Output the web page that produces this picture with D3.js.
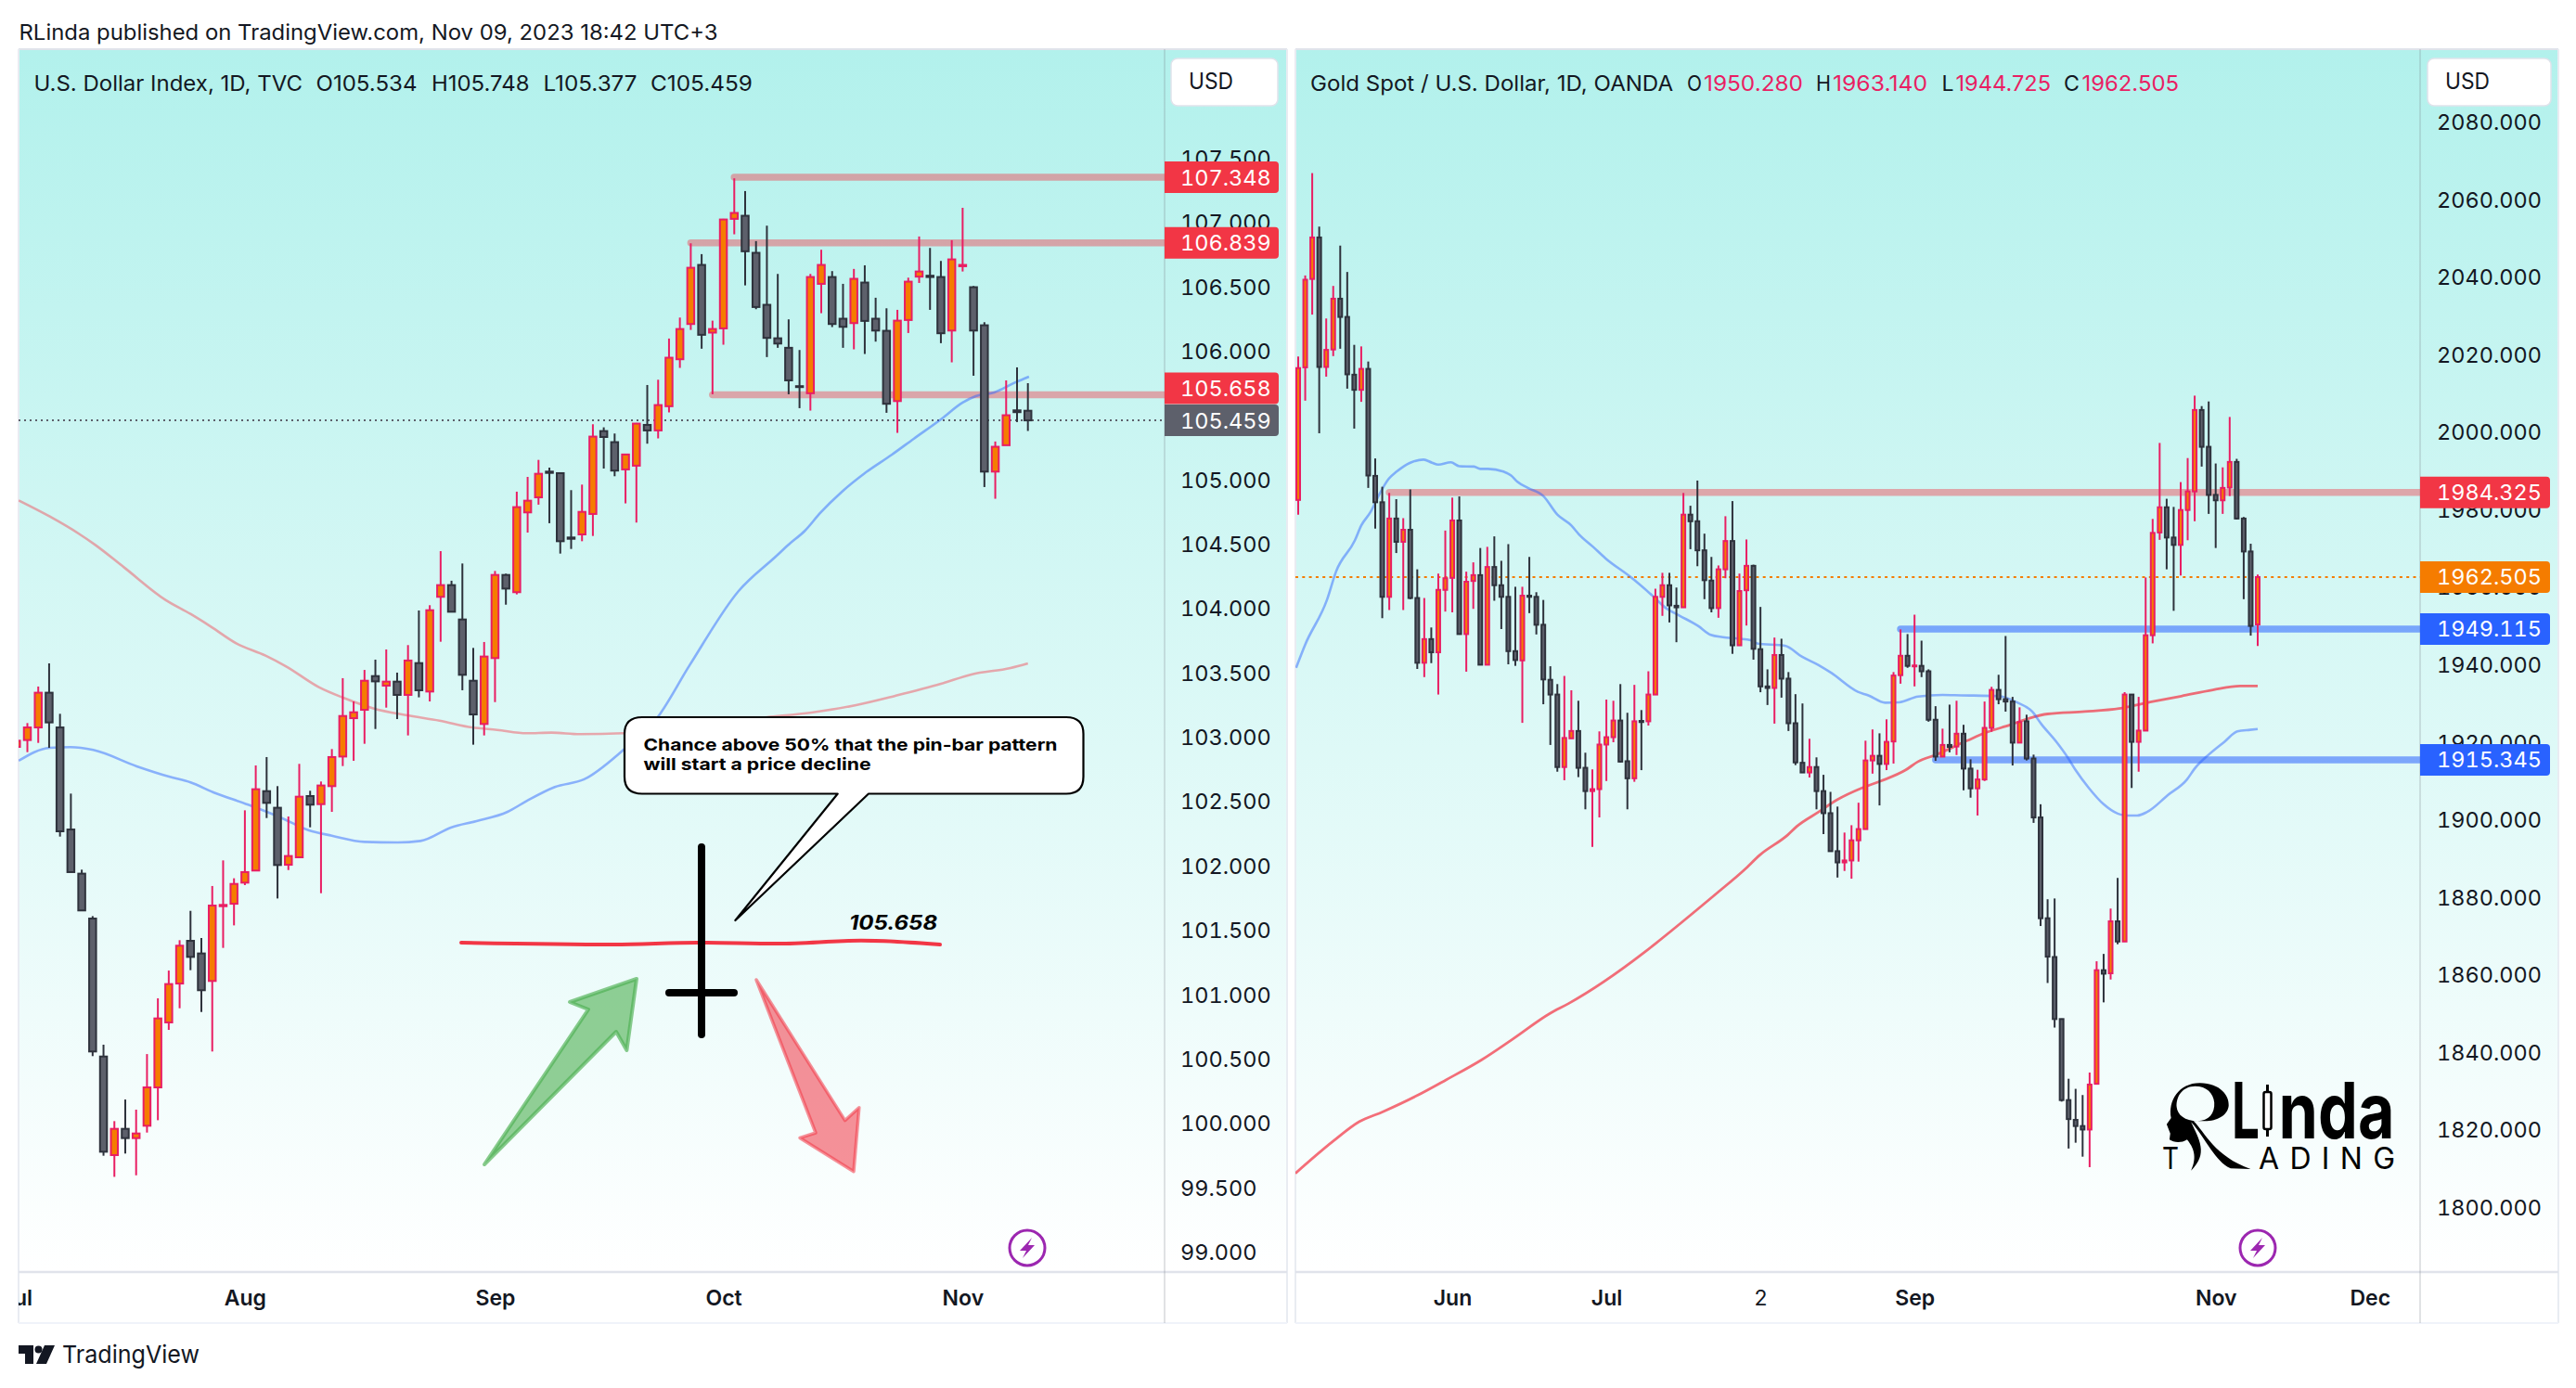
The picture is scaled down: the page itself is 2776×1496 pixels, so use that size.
<!DOCTYPE html>
<html><head><meta charset="utf-8">
<script src="https://cdn.jsdelivr.net/npm/d3@7"></script>
<style>
html,body{margin:0;padding:0;background:#fff;overflow:hidden}
svg{display:block}
text{font-family:Inter,"Noto Sans",sans-serif}
.tnum text,text.tnum{font-variant-numeric:tabular-nums;font-feature-settings:"tnum" 1}
</style></head><body>
<script>
// ---------- DXY data ----------
const dxyOpen=[102.922,102.975,103.073,103.343,103.073,102.280,101.937,101.588,100.516,99.750,99.954,99.882,99.978,100.276,100.781,101.083,101.415,101.317,101.103,101.684,101.703,101.867,101.961,102.578,102.449,102.006,102.064,102.540,102.477,102.617,102.847,103.145,103.210,103.472,103.398,103.429,103.326,103.573,103.352,104.088,104.179,103.912,103.436,103.100,103.612,104.258,104.124,104.744,104.861,105.061,105.049,104.549,104.573,104.732,105.376,105.290,105.078,105.107,105.424,105.381,105.569,105.934,106.208,106.667,106.141,106.174,107.025,107.049,106.761,106.357,106.097,106.023,105.725,105.670,106.520,106.573,106.249,106.215,106.530,106.249,106.155,105.609,106.239,106.576,106.583,106.573,106.157,106.657,106.494,106.198,105.061,105.266,105.537,105.534];
const dxyHigh=[102.970,103.107,103.391,103.571,103.179,102.559,101.968,101.607,100.608,100.014,100.182,100.103,100.535,100.968,101.184,101.420,101.648,101.437,101.841,102.040,101.901,102.429,102.778,102.843,102.617,102.381,102.790,102.581,102.653,102.905,103.456,103.275,103.520,103.600,103.679,103.499,103.713,103.982,104.023,104.443,104.213,104.347,103.691,103.737,104.289,104.268,104.905,105.020,105.152,105.092,105.054,104.917,104.960,105.429,105.405,105.357,105.198,105.439,105.734,105.775,106.095,106.258,106.835,106.751,106.234,107.025,107.340,107.241,106.852,106.972,106.597,106.244,106.006,106.597,106.785,106.619,106.520,106.636,106.664,106.412,106.330,106.318,106.568,106.888,106.799,106.698,106.859,107.111,106.503,106.222,105.295,105.770,105.871,105.748];
const dxyLow=[102.922,102.881,102.953,102.915,102.225,101.949,101.651,100.519,99.745,99.581,99.762,99.593,99.925,100.021,100.723,100.891,101.187,100.862,100.555,101.360,101.535,101.848,101.961,102.369,101.744,101.965,102.062,102.297,101.785,102.417,102.773,102.814,102.946,103.061,103.227,103.138,103.011,103.307,103.275,103.739,103.972,103.362,102.939,103.011,103.270,104.027,104.107,104.587,104.804,104.660,104.424,104.460,104.520,104.561,105.085,105.025,104.814,104.665,105.278,105.319,105.521,105.867,106.162,106.016,105.662,106.047,106.905,106.508,106.323,105.951,106.023,105.662,105.554,105.535,106.292,106.184,106.023,106.011,105.975,106.071,105.518,105.362,106.138,106.527,106.318,106.059,105.910,106.616,105.806,104.941,104.850,105.266,105.446,105.377];
const dxyClose=[102.970,103.073,103.343,103.112,102.266,101.949,101.651,100.555,99.776,99.954,99.882,99.918,100.276,100.812,101.079,101.377,101.290,101.031,101.689,101.694,101.857,101.949,102.593,102.487,102.004,102.074,102.535,102.473,102.622,102.843,103.162,103.191,103.436,103.431,103.429,103.326,103.593,103.362,103.984,104.179,103.972,103.482,103.174,103.624,104.258,104.152,104.785,104.835,105.044,105.051,104.520,104.539,104.748,105.333,105.330,105.069,105.194,105.434,105.381,105.578,105.946,106.169,106.645,106.124,106.169,107.020,107.071,106.773,106.340,106.100,106.056,105.770,105.718,106.573,106.667,106.208,106.186,106.559,106.232,106.157,105.588,106.234,106.537,106.616,106.573,106.136,106.710,106.667,106.157,105.061,105.254,105.499,105.523,105.459];
const dxyFastBar=[0.2,3.06,4.96,7.06,11.06,14.1,16,18.1,21.3,24.4,26.9,29,32,35.06,37.15,40,42.3,45.15,46.9,49.5,52.2,55.8,58.9,61.9,66.4,69.8,71,72.5,73.9,75.9,78,80.5,82.5,85,87,88.2,89.9,91.9,93.1];
const dxyFastVal=[102.814,102.915,102.920,102.898,102.771,102.689,102.646,102.569,102.473,102.369,102.273,102.232,102.184,102.179,102.191,102.297,102.345,102.417,102.501,102.610,102.670,102.898,103.146,103.557,104.133,104.400,104.494,104.602,104.739,104.905,105.049,105.193,105.316,105.467,105.597,105.647,105.676,105.756,105.799];
const dxySlowBar=[0.2,3.06,5.7,7.25,9.9,13.7,16,17.9,20.2,22.9,24.8,27.8,30.1,32.8,35.8,38.9,41.9,44.2,46.9,49.2,51.8,55.8,69,73.1,77.2,80.8,85,87.8,91.4,93];
const dxySlowVal=[104.837,104.712,104.580,104.491,104.316,104.064,103.955,103.855,103.727,103.631,103.547,103.386,103.302,103.222,103.169,103.126,103.073,103.054,103.028,103.033,103.021,103.028,103.153,103.189,103.247,103.319,103.412,103.485,103.535,103.571];
const dxyTicks=[99,99.5,100,100.5,101,101.5,102,102.5,103,103.5,104,104.5,105,105.5,106,106.5,107,107.5];
const dxyMonthBars=[0,21,44,65,87];
const dxyMonths=["Jul","Aug","Sep","Oct","Nov"];
const dxyLevels=[107.348,106.839,105.658];
const dxyLevelStart=[66,62,64];
const dxyLast=105.459;

// ---------- Gold data ----------
const xauOpen=[1982.4,2016.6,2039.4,2050.1,2016.7,2021.2,2034.3,2029.6,2014.7,2010.8,2016.2,1988.6,1981.8,1957.4,1977.6,1971.6,1974.7,1957.1,1940.4,1946.5,1943.1,1959.2,1962.3,1977.1,1947.8,1961.5,1963.0,1939.9,1965.1,1960.4,1957.4,1943.4,1941.0,1957.7,1957.4,1950.2,1936.0,1932.2,1913.5,1920.9,1922.8,1913.3,1907.3,1907.8,1919.3,1921.2,1925.5,1915.0,1910.6,1925.4,1925.3,1932.2,1957.4,1960.4,1955.1,1954.7,1978.6,1976.9,1969.4,1961.6,1954.5,1964.5,1971.8,1944.9,1959.1,1965.4,1943.9,1934.3,1933.9,1942.4,1936.3,1924.8,1914.6,1912.1,1913.5,1907.3,1901.6,1891.8,1888.9,1889.4,1894.6,1897.5,1915.2,1916.4,1914.3,1920.1,1937.2,1942.2,1939.5,1939.6,1938.2,1925.7,1916.2,1919.2,1918.8,1922.1,1913.1,1908.0,1910.3,1923.6,1933.4,1931.0,1930.4,1919.8,1925.3,1915.7,1900.5,1874.5,1864.5,1848.5,1827.6,1822.5,1820.9,1820.0,1831.8,1861.1,1860.3,1873.7,1868.5,1932.2,1920.0,1922.9,1947.5,1974.0,1980.5,1972.7,1970.8,1979.8,1984.6,2005.6,1996.1,1983.7,1982.3,1985.6,1992.2,1977.6,1969.1,1950.28];
const xauHigh=[2019.4,2040.3,2066.7,2052.9,2029.2,2037.6,2048.0,2041.2,2022.4,2022.0,2018.1,1993.1,1985.8,1984.2,1982.6,1977.7,1985.1,1964.5,1957.1,1949.5,1963.4,1974.5,1983.0,1983.3,1963.9,1966.3,1970.0,1970.3,1973.0,1966.7,1971.0,1960.0,1960.0,1967.7,1958.6,1956.6,1939.5,1934.9,1937.0,1933.3,1930.6,1917.2,1912.9,1922.7,1930.9,1930.6,1934.9,1927.5,1934.7,1928.2,1938.2,1959.5,1963.6,1963.6,1959.8,1984.2,1980.9,1987.4,1973.7,1967.7,1965.5,1978.2,1982.1,1963.4,1972.2,1965.7,1954.8,1938.7,1946.9,1946.6,1938.0,1932.3,1929.9,1920.8,1916.0,1911.5,1907.1,1903.3,1896.6,1898.5,1904.3,1920.3,1923.2,1922.2,1925.8,1938.0,1949.0,1947.8,1952.8,1946.1,1938.7,1929.2,1923.4,1929.6,1930.6,1924.4,1915.5,1912.8,1930.4,1934.2,1937.3,1947.3,1931.6,1928.9,1927.0,1916.7,1903.9,1879.4,1879.6,1848.6,1833.1,1830.5,1828.9,1834.7,1863.4,1865.3,1877.0,1884.9,1932.8,1932.2,1931.6,1962.4,1977.5,1997.1,1982.7,1980.6,1987.0,1993.2,2009.3,2006.6,2007.8,1991.8,1990.8,2003.8,1993.0,1978.0,1971.1,1963.14];
const xauLow=[1978.6,2008.0,2030.2,1999.6,2014.2,2019.5,2021.4,2011.1,2000.8,2007.7,1985.5,1975.0,1951.9,1954.0,1968.7,1954.0,1956.8,1938.8,1936.7,1940.3,1932.2,1953.6,1953.4,1947.8,1938.1,1954.3,1939.9,1939.9,1956.4,1949.1,1940.0,1939.6,1924.9,1953.2,1947.7,1929.7,1919.2,1912.3,1910.1,1920.9,1910.9,1902.6,1892.9,1900.5,1909.9,1919.9,1914.7,1902.6,1909.7,1912.7,1924.2,1932.2,1952.5,1950.8,1945.7,1954.7,1969.7,1965.3,1956.8,1953.4,1952.0,1962.2,1942.7,1944.9,1950.0,1941.2,1932.8,1929.5,1924.7,1931.4,1922.8,1914.0,1912.0,1910.8,1902.6,1896.2,1891.8,1885.0,1886.7,1884.7,1889.1,1897.5,1911.8,1903.6,1912.7,1914.4,1935.0,1939.1,1934.3,1936.7,1925.2,1915.1,1916.2,1917.3,1916.6,1907.5,1905.6,1901.0,1909.9,1922.6,1929.7,1927.8,1913.9,1919.7,1915.2,1899.1,1872.5,1857.8,1846.3,1827.2,1815.1,1816.6,1813.0,1810.3,1831.8,1852.8,1858.7,1867.8,1868.5,1908.1,1912.3,1922.9,1945.4,1972.1,1964.5,1953.8,1962.9,1972.0,1976.9,1991.0,1978.8,1970.0,1978.8,1983.4,1977.4,1956.8,1947.4,1944.725];
const xauClose=[2016.4,2039.2,2050.1,2016.7,2021.1,2034.3,2029.6,2014.8,2010.8,2016.2,1988.7,1981.8,1957.4,1977.6,1971.6,1974.7,1957.1,1940.4,1946.5,1943.1,1959.2,1962.2,1977.1,1947.8,1961.3,1963.0,1939.9,1965.1,1960.4,1957.4,1943.4,1941.1,1957.7,1957.4,1950.2,1936.1,1932.2,1913.5,1921.0,1922.8,1913.3,1907.3,1907.8,1919.3,1921.2,1925.5,1914.9,1910.6,1925.3,1925.1,1932.2,1957.4,1960.4,1955.2,1954.7,1978.6,1976.9,1969.4,1961.7,1954.5,1964.5,1971.8,1944.9,1958.9,1965.4,1944.0,1934.3,1933.9,1942.4,1936.3,1924.8,1914.7,1912.1,1913.5,1907.3,1901.6,1891.8,1888.9,1889.4,1894.6,1897.5,1915.2,1916.4,1914.3,1920.0,1937.1,1942.2,1939.6,1939.7,1938.2,1925.7,1916.2,1919.2,1918.7,1922.1,1913.1,1908.0,1910.3,1923.6,1933.4,1931.0,1930.4,1919.8,1925.1,1915.7,1900.5,1874.5,1864.6,1848.5,1827.6,1822.7,1820.9,1820.0,1831.6,1861.1,1860.2,1873.7,1868.5,1932.2,1920.0,1922.9,1947.5,1973.9,1980.5,1972.7,1970.8,1979.8,1984.6,2005.6,1996.1,1983.7,1982.3,1985.5,1992.2,1977.6,1969.1,1949.9,1962.505];
const xauFastBar=[-0.3,1,4.1,5.4,8.1,9,10.3,11.6,12.9,14.05,16,17.9,19.1,20,21.8,23,25.1,26,27.1,29.3,30.4,31.3,32.8,35,37,39,40.1,42.1,43.9,47.4,50.7,52.5,54.5,57.1,58.9,60.6,62.9,64.6,65.5,69.5,71.9,74.3,76.1,79.9,81.4,83.8,85.8,88.5,92,94.6,100,102.6,104.8,106.1,108.3,109.9,111,112.8,115,117,118.5,119.8,121.2,124.2,126.9,128,130,132.3,134.1,135.9,137];
const xauFastVal=[1939.1,1945.1,1956.6,1963.9,1972.0,1975.8,1979.2,1983.9,1987.8,1989.7,1992.0,1992.8,1992.0,1991.5,1992.1,1991.1,1991.0,1990.4,1990.4,1989.7,1988.7,1987.1,1985.5,1983.4,1978.6,1975.8,1973.5,1970.3,1967.3,1962.6,1957.5,1954.5,1952.5,1949.9,1947.6,1947.0,1946.6,1946.2,1945.4,1944.8,1942.0,1939.8,1937.8,1932.9,1932.0,1930.1,1930.2,1931.7,1932.1,1932.0,1931.8,1930.2,1927.8,1924.6,1919.9,1915.9,1912.7,1908.3,1903.9,1901.5,1901.0,1901.0,1901.9,1906.3,1910.3,1913.1,1916.7,1920.1,1922.7,1923.1,1923.3];
const xauSlowBar=[-0.4,5,8.7,12.1,16.9,21.1,26.2,30.6,35.9,38.6,60.2,63.7,65.9,69.9,71.2,74.3,77,80.5,83.2,86.7,88.5,91.1,95.5,98.2,101.7,104.4,107,112.3,117.2,122,126.1,130.6,134.5,137];
const xauSlowVal=[1808.7,1817.0,1822.0,1824.6,1828.7,1832.8,1838.0,1843.3,1849.9,1852.5,1881.6,1887.0,1890.8,1896.0,1898.2,1901.9,1905.1,1908.1,1909.9,1912.7,1914.9,1916.7,1920.3,1922.4,1924.4,1926.1,1927.2,1927.8,1928.6,1930.4,1931.8,1933.4,1934.4,1934.4];
const xauTicks=[1800,1820,1840,1860,1880,1900,1920,1940,1960,1980,2000,2020,2040,2060,2080];
const xauMonthBars=[22,44,66,88,131,153];
const xauMonths=["Jun","Jul","2","Sep","Nov","Dec"];
const xauLevels=[1984.325,1949.115,1915.345];
const xauLevelStart=[13,86,91];
const xauLast=1962.505;

// ---------- drawing ----------
const W=2776,H=1496,TOP=53,PLOT=1371,BOT=1426;
const INK="#131722",UPF="#f57c00",UPB="#e91e63",DNF="#5d606b",DNB="#2e323c";
const RED="#f23645",BLUE="#2962ff",GREY="#5d606b",ORANGE="#f57c00";
const svg=d3.select("body").append("svg").attr("width",W).attr("height",H).attr("viewBox",`0 0 ${W} ${H}`);
const defs=svg.append("defs");
const grad=defs.append("linearGradient").attr("id","bg").attr("gradientUnits","userSpaceOnUse")
  .attr("x1",0).attr("x2",0).attr("y1",TOP).attr("y2",PLOT);
grad.append("stop").attr("offset",0).attr("stop-color","#b2f1ec");
grad.append("stop").attr("offset",1).attr("stop-color","#ffffff");
svg.append("rect").attr("width",W).attr("height",H).attr("fill","#fff");

function label(g,s,x,y,len,o={}){
  const t=g.append("text").attr("x",x).attr("y",y).text(s)
    .attr("font-size",o.size||23).attr("fill",o.fill||INK).attr("font-weight",o.weight||400);
  if(o.style) t.attr("font-style",o.style);
  if(len) t.attr("textLength",len).attr("lengthAdjust",o.adj||"spacingAndGlyphs");
  return t;
}

function panel(p){
  const g=svg.append("g");
  const {left,axisX,right}=p;
  g.append("rect").attr("x",left).attr("y",TOP).attr("width",right-left).attr("height",PLOT-TOP).attr("fill","url(#bg)");
  const id="clip"+p.id;
  defs.append("clipPath").attr("id",id).append("rect").attr("x",left).attr("y",TOP).attr("width",axisX-left).attr("height",PLOT-TOP);
  const defsT="clipT"+p.id;
  defs.append("clipPath").attr("id",defsT).append("rect").attr("x",left).attr("y",PLOT).attr("width",axisX-left).attr("height",BOT-PLOT);

  const x=d3.scaleLinear().domain(p.xDomain).range(p.xRange);
  const y=d3.scaleLinear().domain(p.yDomain).range(p.yRange);

  // frame
  g.append("line").attr("x1",left).attr("x2",right).attr("y1",TOP).attr("y2",TOP).attr("stroke","#e0e3eb").attr("stroke-width",2);
  g.append("line").attr("x1",left).attr("x2",left).attr("y1",TOP).attr("y2",BOT).attr("stroke","#e9ecf2").attr("stroke-width",2);
  g.append("line").attr("x1",right).attr("x2",right).attr("y1",TOP).attr("y2",BOT).attr("stroke","#e9ecf2").attr("stroke-width",2);
  g.append("line").attr("x1",left).attr("x2",right).attr("y1",PLOT).attr("y2",PLOT).attr("stroke","#e0e3eb").attr("stroke-width",2.5);
  g.append("line").attr("x1",left).attr("x2",right).attr("y1",BOT).attr("y2",BOT).attr("stroke","#f0f3fa").attr("stroke-width",2);
  g.append("line").attr("x1",axisX).attr("x2",axisX).attr("y1",TOP).attr("y2",BOT).attr("stroke","#787b86").attr("stroke-opacity",.22).attr("stroke-width",2);

  // price axis
  const ya=g.append("g").attr("class","tnum").attr("transform",`translate(${axisX},0)`)
    .call(d3.axisRight(y).tickValues(p.ticks).tickFormat(d3.format(".3f")).tickSize(0).tickPadding(p.tickPad));
  ya.select(".domain").remove();
  ya.selectAll("text").attr("font-size",p.tickSize).attr("fill",INK).attr("font-family","Inter").attr("dy",".36em");

  // time axis (clipped in page coordinates by an outer group)
  const xClip=g.append("g").attr("clip-path",`url(#${defsT})`);
  const xa=xClip.append("g").attr("transform",`translate(0,${PLOT})`)
    .call(d3.axisBottom(x).tickValues(p.monthBars).tickFormat((d,i)=>p.months[i]).tickSize(0).tickPadding(0));
  xa.select(".domain").remove();
  xa.selectAll("text").attr("font-size",23).attr("fill",INK).attr("font-family","Inter")
    .attr("font-weight",(d,i)=>/^\d/.test(p.months[i])?400:600)
    .attr("dy",0).attr("y",36);

  const plot=g.append("g").attr("clip-path",`url(#${id})`);

  // last price dotted line
  plot.append("line").attr("x1",left).attr("x2",axisX).attr("y1",y(p.last)).attr("y2",y(p.last))
    .attr("stroke",p.lastColor).attr("stroke-width",2).attr("stroke-dasharray",p.lastDash);

  // levels
  plot.selectAll("line.level").data(p.levels).join("line").attr("class","level")
    .attr("x1",(d,i)=>x(p.levelStart[i])).attr("x2",axisX+8)
    .attr("y1",d=>y(d)).attr("y2",d=>y(d))
    .attr("stroke",(d,i)=>p.levelColor[i]).attr("stroke-opacity",(d,i)=>p.levelOpacity[i])
    .attr("stroke-width",7.5).attr("stroke-linecap","round");

  // moving averages
  const line=d3.line().x(d=>x(d[0])).y(d=>y(d[1])).curve(d3.curveMonotoneX);
  plot.append("path").attr("d",line(d3.zip(p.slowBar,p.slowVal))).attr("fill","none")
    .attr("stroke",RED).attr("stroke-opacity",p.slowOpacity).attr("stroke-width",p.slowWidth);
  plot.append("path").attr("d",line(d3.zip(p.fastBar,p.fastVal))).attr("fill","none")
    .attr("stroke",BLUE).attr("stroke-opacity",.48).attr("stroke-width",2.6);

  // candles
  const bars=d3.range(p.open.length);
  const up=i=>p.close[i]>=p.open[i];
  const c=plot.selectAll("g.c").data(bars).join("g").attr("class","c");
  c.append("line").attr("x1",i=>x(i)).attr("x2",i=>x(i)).attr("y1",i=>y(p.high[i])).attr("y2",i=>y(p.low[i]))
    .attr("stroke",i=>up(i)?UPB:DNB).attr("stroke-width",p.wick);
  c.append("rect").attr("x",i=>x(i)-(p.body-2)/2).attr("width",p.body-2)
    .attr("y",i=>y(Math.max(p.open[i],p.close[i])))
    .attr("height",i=>Math.max(1,Math.abs(y(p.open[i])-y(p.close[i]))))
    .attr("fill",i=>up(i)?UPF:DNF).attr("stroke",i=>up(i)?UPB:DNB).attr("stroke-width",2);

  // price tags
  const tg=g.selectAll("g.tag").data(p.tags).join("g").attr("class","tag tnum")
    .attr("transform",d=>`translate(${axisX},${y(d.v)+(d.nudge||0)})`);
  tg.append("path").attr("d",d=>{
      const w=p.tagW,h=17,r=4;
      return `M0,${-h}H${w-r}Q${w},${-h} ${w},${-h+r}V${h-r}Q${w},${h} ${w-r},${h}H0Z`;
    }).attr("fill",d=>d.c);
  tg.append("text").attr("x",p.tickPad).attr("y",0).attr("dy",".36em").attr("fill","#fff")
    .attr("font-size",p.tickSize).text(d=>d3.format(".3f")(d.v));

  // USD button
  g.append("rect").attr("x",p.usdX).attr("y",63).attr("width",p.usdW).attr("height",51).attr("rx",7)
    .attr("fill","#fff").attr("stroke","#e0e3eb").attr("stroke-width",1.5);
  label(g,"USD",p.usdX+19,96,48,{size:24});

  // bolt badge
  const bolt=g.append("g").attr("transform",`translate(${p.boltX},1345)`);
  bolt.append("circle").attr("r",19).attr("fill","none").attr("stroke","#9c27b0").attr("stroke-width",3);
  bolt.append("path").attr("d","M5,-11 L-8,3 L-1,3 L-5,11 L8,-3 L1,-3 Z").attr("fill","#9c27b0");
  return g;
}

panel({id:"L",left:20,axisX:1255,right:1387,xDomain:[1,93],xRange:[29.5,1107.7],yDomain:[99,107.5],yRange:[1349,170],
  open:dxyOpen,high:dxyHigh,low:dxyLow,close:dxyClose,ticks:dxyTicks,monthBars:dxyMonthBars,months:dxyMonths,
  levels:dxyLevels,levelStart:dxyLevelStart,levelColor:[RED,RED,RED],levelOpacity:[.42,.42,.42],
  slowBar:dxySlowBar,slowVal:dxySlowVal,fastBar:dxyFastBar,fastVal:dxyFastVal,slowOpacity:.42,slowWidth:2.6,
  last:dxyLast,lastColor:GREY,lastDash:"2 4",tickPad:17,tickSize:23.5,body:9.5,wick:2,tagW:123,
  tags:[{v:dxyLevels[0],c:RED},{v:dxyLevels[1],c:RED},{v:dxyLevels[2],c:RED,nudge:-7},{v:dxyLast,c:GREY}],
  usdX:1262,usdW:115,boltX:1107});
panel({id:"R",left:1396,axisX:2608,right:2757,xDomain:[0,137],xRange:[1399,2433],yDomain:[1800,2080],yRange:[1301,131],
  open:xauOpen,high:xauHigh,low:xauLow,close:xauClose,ticks:xauTicks,monthBars:xauMonthBars,months:xauMonths,
  levels:xauLevels,levelStart:xauLevelStart,levelColor:[RED,BLUE,BLUE],levelOpacity:[.42,.55,.55],
  slowBar:xauSlowBar,slowVal:xauSlowVal,fastBar:xauFastBar,fastVal:xauFastVal,slowOpacity:.72,slowWidth:2.8,
  last:xauLast,lastColor:ORANGE,lastDash:"3 4.3",tickPad:18,tickSize:23.5,body:6,wick:2,tagW:140,
  tags:[{v:xauLevels[0],c:RED},{v:xauLast,c:ORANGE},{v:xauLevels[1],c:BLUE},{v:xauLevels[2],c:BLUE}],
  usdX:2616,usdW:133,boltX:2433});

// header & legends
label(svg,"RLinda published on TradingView.com, Nov 09, 2023 18:42 UTC+3",20.5,43,753);
label(svg,"U.S. Dollar Index, 1D, TVC",36.5,98,289.5);
label(svg,"O105.534",340.5,98,109);
label(svg,"H105.748",465,98,105.5);
label(svg,"L105.377",585.5,98,101);
label(svg,"C105.459",701,98,110);
label(svg,"Gold Spot / U.S. Dollar, 1D, OANDA",1412,98,391);
const PINK="#e91e63";
[["O",1818,16,"1950.280",1836,107],["H",1957,16,"1963.140",1975,102],["L",2092.5,13,"1944.725",2107.5,102.5],["C",2224,17,"1962.505",2243.5,104.5]]
 .forEach(a=>{label(svg,a[0],a[1],98,a[2]);label(svg,a[3],a[4],98,a[5],{fill:PINK});});

// drawn annotations on the left pane
const ann=svg.append("g");
ann.append("path").attr("d",d3.line().curve(d3.curveMonotoneX)([[497,1016],[661,1018],[752,1016],[838,1017],[928,1013.8],[1013,1018]]))
  .attr("fill","none").attr("stroke",RED).attr("stroke-width",4).attr("stroke-linecap","round");
ann.append("path").attr("d","M756,913V1115M721,1070H791").attr("stroke","#000").attr("stroke-width",8).attr("stroke-linecap","round");
ann.append("path").attr("d","M522,1255L634,1088L614,1080L686,1055L675.4,1132L664,1112Z")
  .attr("fill","#4caf50").attr("fill-opacity",.6).attr("stroke","#4caf50").attr("stroke-opacity",.65).attr("stroke-width",4).attr("stroke-linejoin","round");
ann.append("path").attr("d","M815,1056L910.6,1207.6L925.8,1193.8L920,1262.7L862,1226.4L879,1221Z")
  .attr("fill",RED).attr("fill-opacity",.55).attr("stroke",RED).attr("stroke-opacity",.55).attr("stroke-width",3.5).attr("stroke-linejoin","round");
ann.append("path").attr("d","M692,773H1149Q1167.5,773 1167.5,791V837Q1167.5,855.5 1149,855.5H936L792.4,992L902.7,855.5H692Q673,855.5 673,837V791Q673,773 692,773Z")
  .attr("fill","#fff").attr("stroke","#000").attr("stroke-width",2.2).attr("stroke-linejoin","round");
label(ann,"Chance above 50% that the pin-bar pattern",693.5,809,446,{size:18,weight:700,fill:"#000"});
label(ann,"will start a price decline",693.5,830,245,{size:18,weight:700,fill:"#000"});
label(ann,"105.658",915,1002,95,{size:21,weight:700,style:"italic",fill:"#000"});

// RLinda logo
const logo=svg.append("g");
const lz=logo.append("g").attr("transform","translate(2100,900) scale(0.431,0.3333)");
lz.append("path").attr("fill-rule","evenodd").attr("fill","#000")
  .attr("d","M628,802 C680,802 702,845 700,875 C698,905 672,925 640,925 L612,925 C640,960 665,1040 755,1080 L705,1078 C665,1055 645,985 606,928 C626,985 650,1030 606,1085 C622,1040 612,1010 596,985 C580,998 562,994 552,985 L554,965 L545,935 L556,915 C548,860 575,802 628,802 Z M616,812 C585,812 568,845 570,880 C572,905 590,925 622,925 C650,925 666,900 664,865 C662,835 645,812 616,812 Z");
label(logo,"L",2405,1227,30,{size:84,weight:700,fill:"#000"}).attr("font-family","Liberation Sans");
logo.append("line").attr("x1",2443.5).attr("x2",2443.5).attr("y1",1169).attr("y2",1225).attr("stroke","#000").attr("stroke-width",3);
logo.append("rect").attr("x",2439.5).attr("y",1177).attr("width",8).attr("height",40).attr("rx",2).attr("fill","#fff").attr("stroke","#000").attr("stroke-width",2.5);
label(logo,"nda",2455.5,1227,125,{size:84,weight:700,fill:"#000"}).attr("font-family","Liberation Sans");
label(logo,"T",2330,1260,18,{size:32,fill:"#000"}).attr("font-family","Open Sans");
label(logo,"ADING",2434,1260,147,{size:32,fill:"#000",adj:"spacing"}).attr("font-family","Open Sans");

// TradingView footer
const tv=svg.append("g").attr("fill",INK);
tv.append("path").attr("d","M20,1450H36V1470H27V1459H20ZM48,1450H59L50,1470H39Z");
tv.append("circle").attr("cx",41.5).attr("cy",1454.5).attr("r",4);
label(tv,"TradingView",67,1469,148,{size:26});
</script>
</body></html>
